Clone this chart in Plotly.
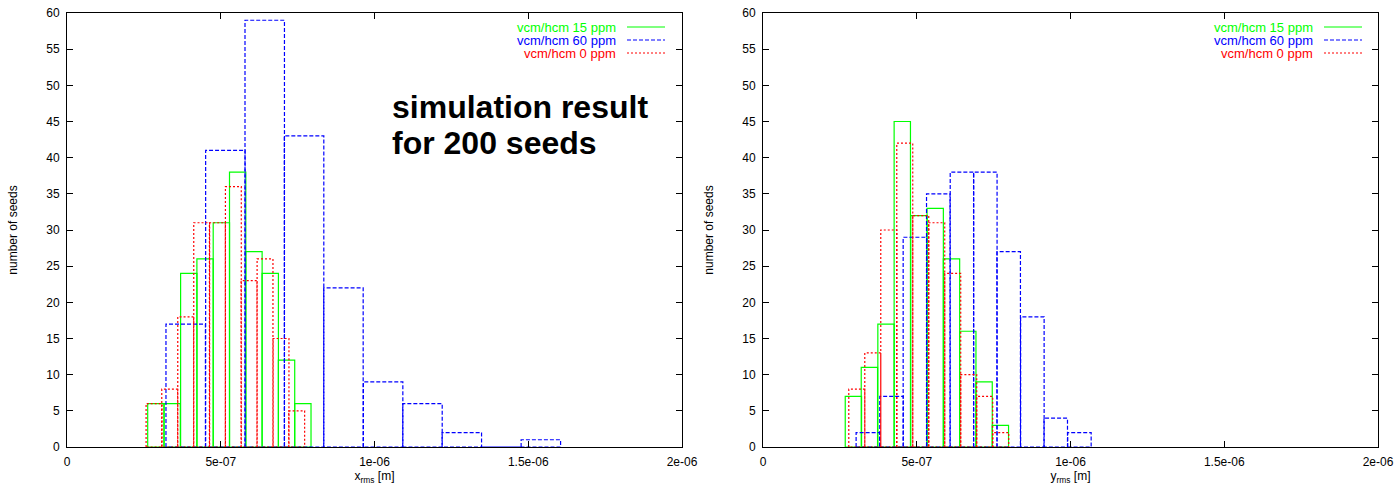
import plotly.graph_objects as go

# ---- histogram data: bin centres [m], counts, bin width [m] ----
# x_rms panel
x15_centers = [2.89e-7, 3.42e-7, 3.96e-7, 4.49e-7, 5.02e-7, 5.55e-7, 6.08e-7, 6.61e-7, 7.14e-7, 7.67e-7]
x15_counts = [6, 6, 24, 26, 31, 38, 27, 24, 12, 6]
x15_width = 5.31e-8

x60_centers = [3.86e-7, 5.15e-7, 6.43e-7, 7.71e-7, 8.99e-7, 10.28e-7, 11.56e-7, 12.84e-7, 14.13e-7, 15.41e-7]
x60_counts = [17, 41, 59, 43, 22, 9, 6, 2, 0, 1]
x60_width = 1.283e-7

x0_centers = [2.83e-7, 3.34e-7, 3.86e-7, 4.38e-7, 4.89e-7, 5.41e-7, 5.92e-7, 6.44e-7, 6.96e-7, 7.47e-7]
x0_counts = [6, 8, 18, 31, 31, 36, 23, 26, 15, 5]
x0_width = 5.16e-8

# y_rms panel
y15_centers = [2.94e-7, 3.46e-7, 4.00e-7, 4.53e-7, 5.07e-7, 5.60e-7, 6.13e-7, 6.66e-7, 7.19e-7, 7.72e-7]
y15_counts = [7, 11, 17, 45, 32, 33, 26, 16, 9, 3]
y15_width = 5.31e-8

y60_centers = [3.41e-7, 4.18e-7, 4.94e-7, 5.70e-7, 6.47e-7, 7.23e-7, 7.99e-7, 8.76e-7, 9.52e-7, 10.29e-7]
y60_counts = [2, 7, 29, 35, 38, 38, 27, 18, 4, 2]
y60_width = 7.64e-8

y0_centers = [3.05e-7, 3.57e-7, 4.09e-7, 4.61e-7, 5.13e-7, 5.65e-7, 6.17e-7, 6.69e-7, 7.21e-7, 7.73e-7]
y0_counts = [8, 13, 30, 42, 32, 31, 24, 10, 7, 2]
y0_width = 5.2e-8

x_tick_vals = [0, 5e-7, 1e-6, 1.5e-6, 2e-6]
x_tick_text = ["0", "5e-07", "1e-06", "1.5e-06", "2e-06"]
y_tick_vals = list(range(0, 61, 5))

series_names = ["vcm/hcm 15 ppm", "vcm/hcm 60 ppm", "vcm/hcm 0 ppm"]
series_colors = ["#00ff00", "#0000ff", "#ff0000"]
series_dash = ["solid", "4px,2px", "2px,2px"]

FONT = "Liberation Sans, Arial, sans-serif"
W, H = 1398, 485


def box_outline(centers, counts, width):
    """Outline of gnuplot-style boxes: one closed rectangle per bin."""
    xs, ys = [], []
    for c, n in zip(centers, counts):
        x0, x1 = c - width / 2, c + width / 2
        xs += [x0, x0, x1, x1, x0, None]
        ys += [0, n, n, 0, 0, None]
    return xs, ys


fig = go.Figure()

panels = [
    ("x", "y", [(x15_centers, x15_counts, x15_width),
                (x60_centers, x60_counts, x60_width),
                (x0_centers, x0_counts, x0_width)]),
    ("x2", "y2", [(y15_centers, y15_counts, y15_width),
                  (y60_centers, y60_counts, y60_width),
                  (y0_centers, y0_counts, y0_width)]),
]

for xa, ya, sets in panels:
    for k, (cen, cnt, wid) in enumerate(sets):
        bx, by = box_outline(cen, cnt, wid)
        fig.add_trace(go.Scatter(
            x=bx, y=by, mode="lines", xaxis=xa, yaxis=ya,
            line=dict(color=series_colors[k], width=1.2, dash=series_dash[k]),
            showlegend=False, hoverinfo="skip",
        ))

# plot-area pixel boxes
left_px = (67, 682)
right_px = (763, 1378)
top_px, bot_px = 13, 447
ydom = [1 - bot_px / H, 1 - top_px / H]

axis_common = dict(
    showline=True, linecolor="black", linewidth=1, mirror="ticks",
    ticks="inside", ticklen=6, tickcolor="black", tickwidth=1,
    showgrid=False, zeroline=False, automargin=False,
    tickfont=dict(family=FONT, size=12, color="black"),
)
title_font = dict(family=FONT, size=12, color="black")

fig.update_layout(
    width=W, height=H,
    margin=dict(l=0, r=0, t=0, b=0, autoexpand=False),
    paper_bgcolor="white", plot_bgcolor="white",
    showlegend=False,
    font=dict(family=FONT, size=12, color="black"),
    xaxis=dict(domain=[left_px[0] / W, left_px[1] / W], range=[0, 2e-6],
               tickvals=x_tick_vals, ticktext=x_tick_text, anchor="y",
               ticklabelstandoff=4,
               title=dict(text="x<sub>rms</sub> [m]", standoff=2, font=title_font),
               **axis_common),
    yaxis=dict(domain=ydom, range=[0, 60], tickvals=y_tick_vals, anchor="x",
               ticklabelstandoff=4,
               title=dict(text="number of seeds", standoff=26, font=title_font),
               **axis_common),
    xaxis2=dict(domain=[right_px[0] / W, right_px[1] / W], range=[0, 2e-6],
                tickvals=x_tick_vals, ticktext=x_tick_text, anchor="y2",
                ticklabelstandoff=4,
                title=dict(text="y<sub>rms</sub> [m]", standoff=2, font=title_font),
                **axis_common),
    yaxis2=dict(domain=ydom, range=[0, 60], tickvals=y_tick_vals, anchor="x2",
                ticklabelstandoff=4,
                title=dict(text="number of seeds", standoff=26, font=title_font),
                **axis_common),
)

# in-plot keys (text right-aligned, line sample on the right)
key_rows_px = [27, 40, 53]
for text_right, sample in [(618, (627, 665)), (1315, (1324, 1362))]:
    for k, ypx in enumerate(key_rows_px):
        yp = 1 - ypx / H
        fig.add_annotation(
            x=text_right / W, y=yp, xref="paper", yref="paper",
            text=series_names[k], showarrow=False,
            xanchor="right", yanchor="middle",
            font=dict(family=FONT, size=13, color=series_colors[k]),
        )
        fig.add_shape(
            type="line", xref="paper", yref="paper",
            x0=sample[0] / W, x1=sample[1] / W, y0=yp, y1=yp,
            line=dict(color=series_colors[k], width=1.2, dash=series_dash[k]),
        )

# two-line bold note
for line_text, ypx in [("simulation result", 107), ("for 200 seeds", 143)]:
    fig.add_annotation(
        x=390 / W, y=1 - ypx / H, xref="paper", yref="paper",
        text="<b>" + line_text + "</b>", showarrow=False,
        xanchor="left", yanchor="middle", align="left",
        font=dict(family=FONT, size=32, color="black"),
    )

fig.write_html("out.html")
